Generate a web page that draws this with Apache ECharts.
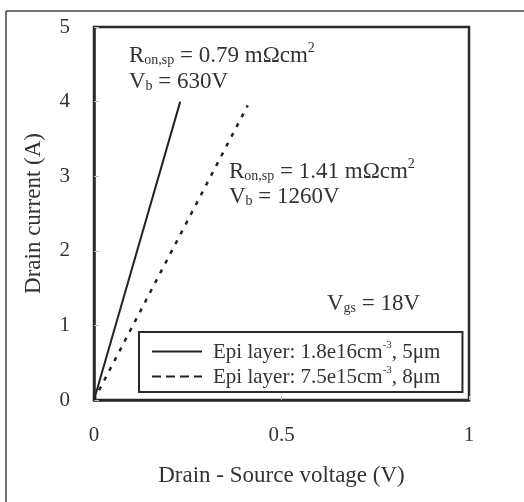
<!DOCTYPE html>
<html>
<head>
<meta charset="utf-8">
<script src="https://cdn.jsdelivr.net/npm/echarts@6/dist/echarts.min.js"></script>
<style>
  html, body { margin: 0; padding: 0; background: #fff; }
  #chart { width: 524px; height: 502px; }
</style>
</head>
<body>
<div id="chart"></div>
<script>
// Drain current vs drain-source voltage for two epi layer designs
const seriesNames = ['Epi layer: 1.8e16cm-3, 5μm', 'Epi layer: 7.5e15cm-3, 8μm'];
const epi5umPoints = [[0, 0], [0.23, 4]];
const epi8umPoints = [[0, 0], [0.41, 3.95]];
const xTicks = { min: 0, max: 1, step: 0.5 };
const yTicks = { min: 0, max: 5, step: 1 };

const FONT = '"Liberation Serif", "DejaVu Serif", serif';
const INK = '#333';

const richText = {
  n:   { fontSize: 23, fontFamily: FONT, color: INK, lineHeight: 24, verticalAlign: 'bottom' },
  sub: { fontSize: 14, fontFamily: FONT, color: INK, lineHeight: 14, padding: [12, 0, 0, 0], verticalAlign: 'bottom' },
  sup: { fontSize: 14, fontFamily: FONT, color: INK, lineHeight: 14, padding: [0, 0, 12, 0], verticalAlign: 'bottom' }
};
const legendRich = {
  n:   { fontSize: 21, fontFamily: FONT, color: INK, lineHeight: 23, verticalAlign: 'bottom' },
  g:   { width: 6, lineHeight: 23, verticalAlign: 'bottom' },
  sup: { fontSize: 11, fontFamily: FONT, color: INK, lineHeight: 11, padding: [0, 0, 12, 0], verticalAlign: 'bottom' }
};

const chart = echarts.init(document.getElementById('chart'), null, { renderer: 'canvas' });

function note(x, y, text) {
  return { type: 'text', left: x, top: y, z: 10, style: { text: text, rich: richText, font: '23px ' + FONT, fill: INK } };
}

chart.setOption({
  backgroundColor: '#fff',
  animation: false,
  grid: { left: 94, right: 55, top: 27, bottom: 102, show: true, borderColor: '#2a2a2a', borderWidth: 2.5, backgroundColor: 'transparent' },
  xAxis: {
    type: 'value', min: xTicks.min, max: xTicks.max, interval: xTicks.step,
    name: 'Drain - Source voltage (V)', nameLocation: 'middle', nameGap: 64,
    nameTextStyle: { fontSize: 23, fontFamily: FONT, color: INK },
    axisLine: { show: true, lineStyle: { color: '#2a2a2a', width: 2.5 } },
    axisTick: { show: true, inside: true, length: 4, lineStyle: { color: '#bbb', width: 1 } },
    axisLabel: { margin: 25, fontSize: 21, fontFamily: FONT, color: INK },
    splitLine: { show: false }
  },
  yAxis: {
    type: 'value', min: yTicks.min, max: yTicks.max, interval: yTicks.step,
    name: 'Drain current (A)', nameLocation: 'middle', nameGap: 49, nameRotate: 90,
    nameTextStyle: { fontSize: 23, fontFamily: FONT, color: INK },
    axisLine: { show: true, lineStyle: { color: '#2a2a2a', width: 2.5 } },
    axisTick: { show: true, inside: true, length: 5, lineStyle: { color: '#bbb', width: 1 } },
    axisLabel: { margin: 24, fontSize: 21, fontFamily: FONT, color: INK },
    splitLine: { show: false }
  },
  legend: {
    orient: 'vertical', left: 139, top: 332,
    itemWidth: 50, itemHeight: 12, itemGap: 2,
    padding: [8, 22, 4, 12],
    borderColor: '#2a2a2a', borderWidth: 2,
    backgroundColor: '#fff',
    itemStyle: { opacity: 0 },
    data: [
      { name: seriesNames[0], lineStyle: { type: 'solid', width: 2, color: '#222' } },
      { name: seriesNames[1], lineStyle: { type: [9, 5], width: 2, color: '#222' } }
    ],
    formatter: name => {
      const parts = name.split('cm-3');
      return '{g|}{n|' + parts[0] + 'cm}{sup|-3}{n|' + parts[1] + '}';
    },
    textStyle: { rich: legendRich, fontSize: 21, fontFamily: FONT, color: INK }
  },
  series: [
    {
      name: seriesNames[0], type: 'line', data: epi5umPoints,
      symbol: 'none', lineStyle: { color: '#222', width: 2, type: 'solid' }, z: 3
    },
    {
      name: seriesNames[1], type: 'line', data: epi8umPoints,
      symbol: 'none', lineStyle: { color: '#222', width: 2.5, type: [4, 7] }, z: 3
    }
  ],
  graphic: [
    { type: 'line', shape: { x1: 6, y1: 11, x2: 524, y2: 11 }, style: { stroke: '#444', lineWidth: 1.5 } },
    { type: 'line', shape: { x1: 6, y1: 11, x2: 6, y2: 502 }, style: { stroke: '#444', lineWidth: 1.5 } },
    note(129, 41, '{n|R}{sub|on,sp}{n| = 0.79 mΩcm}{sup|2}'),
    note(129, 67, '{n|V}{sub|b}{n| = 630V}'),
    note(229, 157, '{n|R}{sub|on,sp}{n| = 1.41 mΩcm}{sup|2}'),
    note(229, 182, '{n|V}{sub|b}{n| = 1260V}'),
    note(327, 289, '{n|V}{sub|gs}{n| = 18V}')
  ]
});
</script>
</body>
</html>
